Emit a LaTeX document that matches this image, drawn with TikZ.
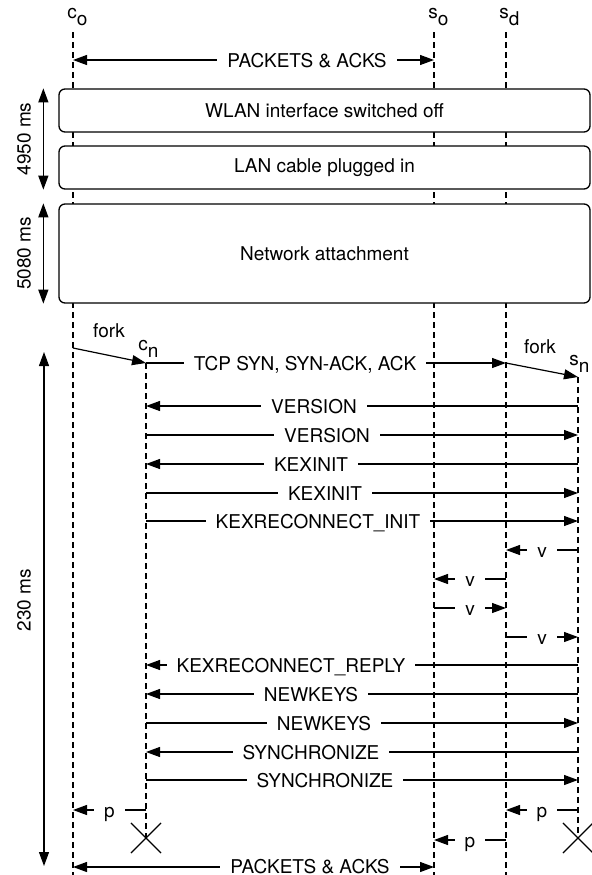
\documentclass[tikz,border=0pt]{standalone}
\usepackage{fontspec}
\setmainfont{TeX Gyre Heros}
\usetikzlibrary{positioning,arrows.meta,shapes.misc}

% lifeline name with a lowered index, e.g. \lane{c}{o}
\newcommand{\lane}[2]{#1\raisebox{-0.8ex}{#2}}

\begin{document}
\begin{tikzpicture}[
    x=0.5pt, y=-0.5pt,
    font=\fontsize{9.5}{11}\selectfont,
    >={Triangle[length=7pt,width=5pt]},
    lifeline/.style={dash pattern=on 3pt off 2pt, line width=0.55pt},
    msg/.style={->, line width=0.6pt},
    msg_both/.style={<->, line width=0.6pt},
    msg_label/.style={fill=white, inner xsep=5pt, inner ysep=1pt, text height=7pt, text depth=0pt},
    phase/.style={rectangle, draw, rounded corners=3pt, fill=white, line width=0.65pt, minimum width=265.5pt},
    lane_label/.style={anchor=base west, inner sep=0pt},
    lane_end/.style={cross out, draw, line width=0.55pt, minimum size=14.5pt, inner sep=0pt},
    dur_label/.style={rotate=90}
]
\useasboundingbox (0,0) rectangle (591,875);

% Lifelines
\coordinate (c_o) at (73,32);
\coordinate (s_o) at (434,32);
\coordinate (s_d) at (506,32);
\coordinate (c_n) at (146,363);
\coordinate (s_n) at (578,377);
\coordinate (bottom) at (0,875);
\node[lane_end] (c_n_end) at (c_n |- 0,838) {};
\node[lane_end] (s_n_end) at (s_n |- 0,838) {};
\draw[lifeline] (c_o) -- (c_o |- bottom);
\draw[lifeline] (s_o) -- (s_o |- bottom);
\draw[lifeline] (s_d) -- (s_d |- bottom);
\draw[lifeline] (c_n) -- (c_n_end.center);
\draw[lifeline] (s_n) -- (s_n_end.center);

\node[lane_label] (c_o_label) at (67,18) {\lane{c}{o}};
\node[lane_label] (s_o_label) at (428,18) {\lane{s}{o}};
\node[lane_label] (s_d_label) at (499,18) {\lane{s}{d}};
\node[lane_label] (c_n_label) at (138,350) {\lane{c}{n}};
\node[lane_label] (s_n_label) at (569,365) {\lane{s}{n}};

% Old connection
\draw[msg_both] (c_o |- 0,60) -- (s_o |- 0,60);
\node[msg_label] (old_traffic) at (307,60) {PACKETS \& ACKS};

% Handover phases
\node[phase, minimum height=21.5pt] (wlan) at (324.5,110.5) {WLAN interface switched off};
\node[phase, minimum height=21.5pt] (lan) at (324.5,167.5) {LAN cable plugged in};
\node[phase, minimum height=49.5pt] (attach) at (324.5,253.5) {Network attachment};

% Durations
\draw[msg_both] ([xshift=-7.5pt]wlan.north west) -- ([xshift=-7.5pt]lan.south west);
\node[dur_label] (dur_off) at (24,139) {4950 ms};
\draw[msg_both] ([xshift=-7.5pt]attach.north west) -- ([xshift=-7.5pt]attach.south west);
\node[dur_label] (dur_attach) at (24,253.5) {5080 ms};
\coordinate (t_start) at (44,352);
\coordinate (t_end) at (44,866);
\draw[msg_both] (t_start) -- (t_end);
\node[dur_label] (dur_reconnect) at (24,600) {230 ms};

% Forks and TCP handshake
\draw[msg] (c_o |- 0,348) -- (c_n);
\node (fork_c) at (109,331) {fork};
\draw[msg] (c_n) -- (s_d |- c_n);
\node[msg_label] (tcp) at (305,363) {TCP SYN, SYN-ACK, ACK};
\draw[msg] (s_d |- c_n) -- (s_n);
\node (fork_s) at (540,347) {fork};

% Key exchange
\draw[msg] (s_n |- 0,406) -- (c_n |- 0,406);
\node[msg_label] (version_s) at (314,406) {VERSION};
\draw[msg] (c_n |- 0,435) -- (s_n |- 0,435);
\node[msg_label] (version_c) at (327,435) {VERSION};
\draw[msg] (s_n |- 0,464) -- (c_n |- 0,464);
\node[msg_label] (kexinit_s) at (311,464) {KEXINIT};
\draw[msg] (c_n |- 0,493) -- (s_n |- 0,493);
\node[msg_label] (kexinit_c) at (325,493) {KEXINIT};
\draw[msg] (c_n |- 0,521) -- (s_n |- 0,521);
\node[msg_label] (reconnect_init) at (318,521) {KEXRECONNECT\_INIT};

% Verification between servers
\draw[msg] (s_n |- 0,550) -- node[msg_label] (v_1) {v} (s_d |- 0,550);
\draw[msg] (s_d |- 0,579) -- node[msg_label] (v_2) {v} (s_o |- 0,579);
\draw[msg] (s_o |- 0,608) -- node[msg_label] (v_3) {v} (s_d |- 0,608);
\draw[msg] (s_d |- 0,637) -- node[msg_label] (v_4) {v} (s_n |- 0,637);

\draw[msg] (s_n |- 0,665) -- (c_n |- 0,665);
\node[msg_label] (reconnect_reply) at (291,665) {KEXRECONNECT\_REPLY};
\draw[msg] (s_n |- 0,694) -- (c_n |- 0,694);
\node[msg_label] (newkeys_s) at (311,694) {NEWKEYS};
\draw[msg] (c_n |- 0,723) -- (s_n |- 0,723);
\node[msg_label] (newkeys_c) at (324,723) {NEWKEYS};
\draw[msg] (s_n |- 0,752) -- (c_n |- 0,752);
\node[msg_label] (sync_s) at (311,752) {SYNCHRONIZE};
\draw[msg] (c_n |- 0,780) -- (s_n |- 0,780);
\node[msg_label] (sync_c) at (325,780) {SYNCHRONIZE};

% Handing back the state
\draw[msg] (c_n |- 0,810) -- node[msg_label] (p_c) {p} (c_o |- 0,810);
\draw[msg] (s_n |- 0,810) -- node[msg_label] (p_s) {p} (s_d |- 0,810);
\draw[msg] (s_d |- 0,840) -- node[msg_label] (p_d) {p} (s_o |- 0,840);

% New connection
\draw[msg_both] (c_o |- 0,867) -- (s_o |- 0,867);
\node[msg_label] (new_traffic) at (310,866) {PACKETS \& ACKS};

\end{tikzpicture}
\end{document}
